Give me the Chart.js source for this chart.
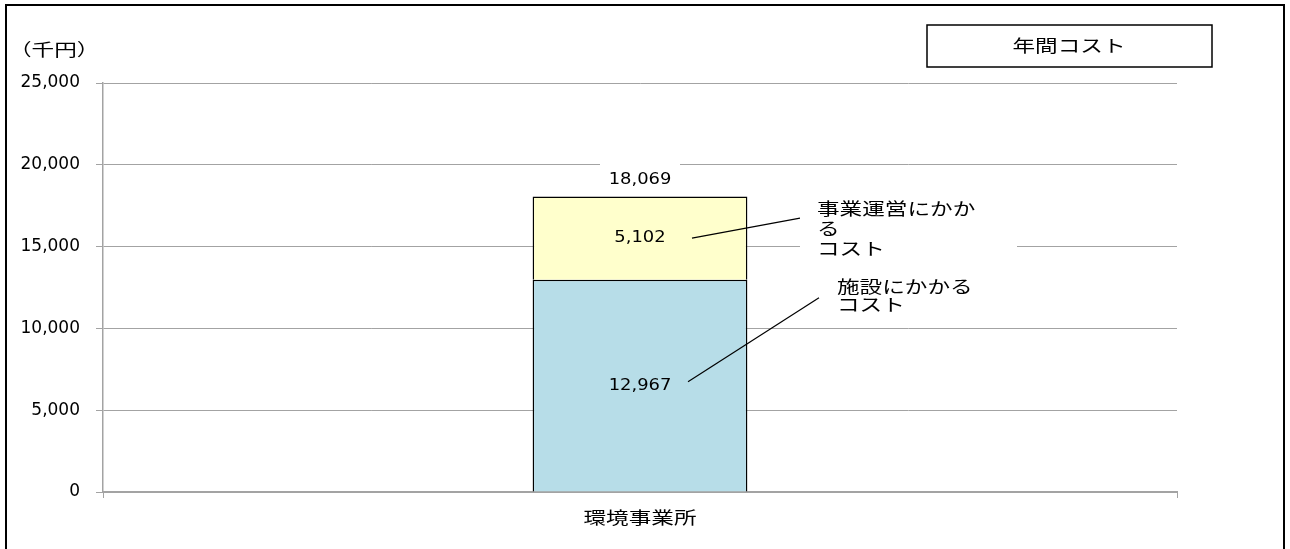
<!DOCTYPE html>
<html>
<head>
<meta charset="utf-8">
<script src="https://cdn.jsdelivr.net/npm/chart.js@4"></script>
<style>
  body { margin: 0; background: #fff; }
  #wrap { width: 1290px; height: 549px; }
</style>
</head>
<body>
<div id="wrap"><canvas id="graficoCostos"></canvas></div>
<script>
const categories = ["環境事業所"];
const facilityCost = [12967];
const operationCost = [5102];
const seriesNames = ["施設にかかるコスト", "事業運営にかかるコスト"];
const seriesNameLines = [["施設にかかる", "コスト"], ["事業運営にかか", "る", "コスト"]];
const yMin = 0;
const yMax = 25000;
const yStep = 5000;
const unitLabel = "（千円）";
const chartTitle = "年間コスト";

const numFont = "'DejaVu Sans', sans-serif";
const jpFont = "'Noto Sans CJK JP', sans-serif";
const gridColor = "#a3a3a3";

const fmt = (v) => v.toLocaleString("en-US");

// texto estirado horizontalmente como en el original
function wideText(ctx, text, x, y, sx, align) {
  ctx.save();
  ctx.translate(x, y);
  ctx.scale(sx, 1);
  ctx.textAlign = align;
  ctx.textBaseline = "middle";
  ctx.fillText(text, 0, 0);
  ctx.restore();
}

// posiciones de las llamadas, relativas al centro de cada segmento
const callouts = [
  { start: [48, -4], end: [179, -88], text: [197, -99], lineH: 18, box: [179, -110, 172, 40] },
  { start: [52, 0], end: [160, -20], text: [177, -30], lineH: 20, box: [160, -41, 217, 62] },
];

const costLabels = {
  id: "costLabels",
  afterDatasetsDraw(chart) {
    const ctx = chart.ctx;
    const series = [facilityCost, operationCost];
    categories.forEach((cat, i) => {
      let topY = null, cx = null;
      series.forEach((vals, d) => {
        const bar = chart.getDatasetMeta(d).data[i];
        const cy = (bar.y + bar.base) / 2;
        cx = bar.x;
        topY = topY === null ? bar.y : Math.min(topY, bar.y);
        ctx.fillStyle = "#000";
        ctx.font = "16px " + numFont;
        wideText(ctx, fmt(vals[i]), cx, cy, 1.12, "center");

        const c = callouts[d];
        ctx.fillStyle = "#fff";
        ctx.fillRect(cx + c.box[0], cy + c.box[1], c.box[2], c.box[3]);
        ctx.strokeStyle = "#000";
        ctx.lineWidth = 1.2;
        ctx.beginPath();
        ctx.moveTo(cx + c.start[0], cy + c.start[1]);
        ctx.lineTo(cx + c.end[0], cy + c.end[1]);
        ctx.stroke();
        ctx.fillStyle = "#000";
        ctx.font = "17px " + jpFont;
        seriesNameLines[d].forEach((ln, k) => {
          wideText(ctx, ln, cx + c.text[0], cy + c.text[1] + k * c.lineH, 1.33, "left");
        });
      });
      const total = facilityCost[i] + operationCost[i];
      ctx.fillStyle = "#fff";
      ctx.fillRect(cx - 40, topY - 33, 80, 30);
      ctx.fillStyle = "#000";
      ctx.font = "16px " + numFont;
      wideText(ctx, fmt(total), cx, topY - 17, 1.12, "center");
    });
  },
  afterDraw(chart) {
    const ctx = chart.ctx;
    const xs = chart.scales.x;
    ctx.save();
    ctx.strokeStyle = "#000";
    ctx.lineWidth = 2;
    ctx.strokeRect(6, 5, 1278, 700);
    ctx.fillStyle = "#fff";
    ctx.fillRect(927, 25, 285, 42);
    ctx.lineWidth = 1.5;
    ctx.strokeRect(927, 25, 285, 42);
    ctx.fillStyle = "#000";
    ctx.font = "17px " + jpFont;
    wideText(ctx, chartTitle, 1069, 46, 1.33, "center");
    wideText(ctx, unitLabel, 9, 50, 1.33, "left");
    categories.forEach((c, i) => {
      wideText(ctx, c, xs.getPixelForTick(i), xs.top + 26, 1.33, "center");
    });
    ctx.restore();
  },
};

const ctxCostos = document.getElementById("graficoCostos");

new Chart(ctxCostos, {
  type: "bar",
  data: {
    labels: categories,
    datasets: [
      {
        label: seriesNames[0],
        data: facilityCost,
        backgroundColor: "#b7dde8",
        borderColor: "#000",
        borderWidth: 1.5,
      },
      {
        label: seriesNames[1],
        data: operationCost,
        backgroundColor: "#ffffcc",
        borderColor: "#000",
        borderWidth: 1.5,
      },
    ],
  },
  options: {
    responsive: true,
    maintainAspectRatio: false,
    animation: false,
    layout: { padding: { left: 0, right: 113, top: 83, bottom: 0 } },
    datasets: { bar: { categoryPercentage: 1, barPercentage: 0.2 } },
    plugins: {
      legend: { display: false },
      title: { display: false },
      tooltip: { enabled: false },
    },
    scales: {
      x: {
        stacked: true,
        afterFit: (s) => { s.height = 57; },
        grid: {
          offset: true,
          drawOnChartArea: false,
          drawTicks: true,
          tickLength: 6,
          color: gridColor,
        },
        border: { display: true, color: gridColor, width: 2 },
        ticks: { display: false },
      },
      y: {
        stacked: true,
        min: yMin,
        max: yMax,
        afterFit: (s) => { s.width = 103; },
        grid: { color: gridColor, tickLength: 7, lineWidth: 1 },
        border: { display: true, color: gridColor, width: 1.5 },
        ticks: {
          stepSize: yStep,
          color: "#000",
          padding: 16,
          font: { family: numFont, size: 17 },
          callback: (v) => fmt(v),
        },
      },
    },
  },
  plugins: [costLabels],
});
</script>
</body>
</html>
